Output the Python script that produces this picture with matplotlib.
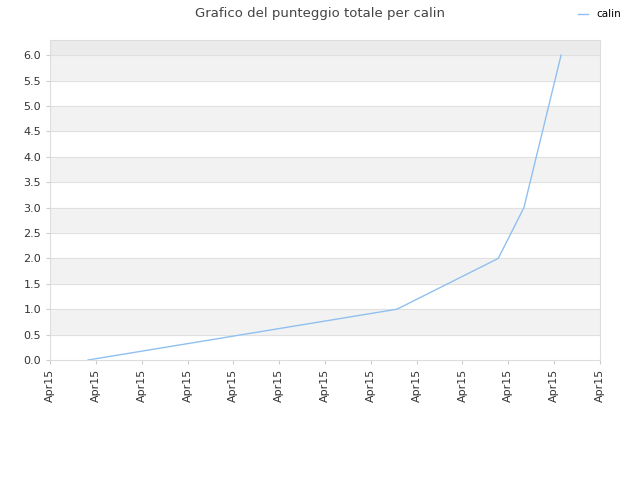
import matplotlib
matplotlib.use('Agg')
import matplotlib.pyplot as plt

# x positions in tick units (each tick labelled "Apr15")
x_vals = [0.83, 7.57, 9.78, 10.34, 11.15]
y_vals = [0, 1, 2, 3, 6]
tick_pos = list(range(13))
tick_labels = ['Apr15'] * 13

fig = plt.figure(figsize=(6.4, 4.8), dpi=100)
ax = fig.add_axes([50/640, 120/480, 550/640, 320/480])

# alternating background bands
for lo in [0.5, 1.5, 2.5, 3.5, 4.5, 5.5]:
    ax.axhspan(lo, lo + 0.5, color='#f2f2f2', zorder=0)
ax.axhspan(6.0, 6.3, color='#ebebeb', zorder=0)
for y in [i * 0.5 for i in range(13)]:
    ax.axhline(y, color='#dddddd', lw=0.6, zorder=1)

ax.plot(x_vals, y_vals, color='#90c0f0', lw=1, label='calin', zorder=2)

ax.set_xlim(0, 12)
ax.set_ylim(0, 6.3)
ax.set_xticks(tick_pos)
ax.set_xticklabels(tick_labels, rotation=90, fontsize=8, color='#333333')
ax.set_yticks([i * 0.5 for i in range(13)])
ax.set_yticklabels(['%.1f' % (i * 0.5) for i in range(13)], fontsize=8, color='#333333')
for s in ax.spines.values():
    s.set_color('#dddddd')
ax.tick_params(length=3, color='#cccccc')

fig.suptitle('Grafico del punteggio totale per calin', fontsize=9.5, color='#444444', y=0.985)
fig.legend(loc='upper right', bbox_to_anchor=(0.985, 1.0), frameon=False, fontsize=7.5,
           handlelength=1)

fig.savefig('out.png')
